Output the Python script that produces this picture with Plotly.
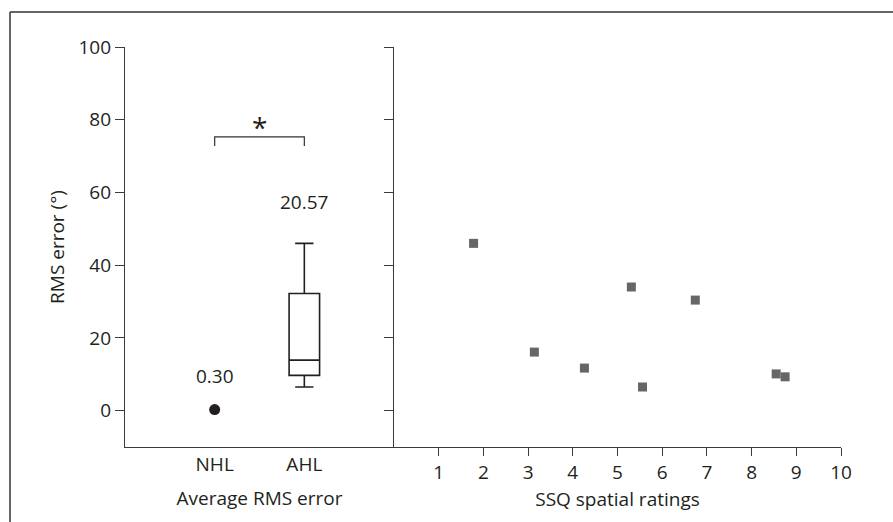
import plotly.graph_objects as go

# ---- data ----
groups = ["NHL", "AHL"]
nhl_mean = 0.30
ahl_mean = 20.57
ahl_rms_error = [46.0, 16.1, 11.7, 34.0, 6.5, 30.4, 10.1, 9.3]
ssq_spatial = [1.78, 3.14, 4.26, 5.31, 5.56, 6.74, 8.55, 8.75]
y_ticks = [0, 20, 40, 60, 80, 100]
x2_ticks = [1, 2, 3, 4, 5, 6, 7, 8, 9, 10]

# ---- styling / layout constants ----
W, H = 893, 522
ML, MR, MT, MB = 125, 52, 47, 75
split = (394 - ML) / (W - ML - MR)
FONT = "Open Sans"
FS = 19
TXT = "#231f20"
AX = "#3a3a3a"
bracket_level = 75.3
bracket_drop = 2.5
star_level = 78.0
label_offsets = {"NHL": 9.6, "AHL": 57.5}

fig = go.Figure()

# NHL mean point
fig.add_trace(go.Scatter(
    x=[groups[0]], y=[nhl_mean], mode="markers",
    marker=dict(symbol="circle", size=11, color="#231f20"),
    xaxis="x", yaxis="y", showlegend=False, hoverinfo="skip"))

# AHL box
fig.add_trace(go.Box(
    x=[groups[1]] * len(ahl_rms_error), y=ahl_rms_error,
    boxpoints=False, quartilemethod="exclusive",
    width=0.34, whiskerwidth=0.6,
    fillcolor="white", line=dict(color="#231f20", width=1.6),
    xaxis="x", yaxis="y", showlegend=False))

# significance bracket
fig.add_trace(go.Scatter(
    x=[groups[0], groups[0], groups[1], groups[1]],
    y=[bracket_level - bracket_drop, bracket_level, bracket_level, bracket_level - bracket_drop],
    mode="lines", line=dict(color="#333", width=1.2),
    xaxis="x", yaxis="y", showlegend=False, hoverinfo="skip"))

# SSQ scatter
fig.add_trace(go.Scatter(
    x=ssq_spatial, y=ahl_rms_error, mode="markers",
    marker=dict(symbol="square", size=9, color="#666666"),
    xaxis="x2", yaxis="y2", showlegend=False))

annotations = [
    dict(x=groups[0], y=label_offsets["NHL"], xref="x", yref="y", text=f"{nhl_mean:.2f}",
         showarrow=False, font=dict(family=FONT, size=FS, color=TXT)),
    dict(x=groups[1], y=label_offsets["AHL"], xref="x", yref="y", text=f"{ahl_mean:.2f}",
         showarrow=False, font=dict(family=FONT, size=FS, color=TXT)),
    dict(x=0.5, y=star_level, xref="x", yref="y", text="*",
         showarrow=False, font=dict(family=FONT, size=28, color=TXT)),
]

# outer frame (top and left edges)
x_left = (10 - ML) / (W - ML - MR)
y_top = (H - MB - 12) / (H - MT - MB)
y_bot = (H - MB - H - 10) / (H - MT - MB)
x_right = (W + 10 - ML) / (W - ML - MR)
shapes = [
    dict(type="line", xref="paper", yref="paper", x0=x_left, x1=x_left, y0=y_bot, y1=y_top,
         line=dict(color="#333", width=1.5)),
    dict(type="line", xref="paper", yref="paper", x0=x_left, x1=x_right, y0=y_top, y1=y_top,
         line=dict(color="#333", width=1.5)),
]

axis_common = dict(showgrid=False, zeroline=False, showline=True, linecolor=AX, linewidth=1.3,
                   tickfont=dict(family=FONT, size=FS, color=TXT))

fig.update_layout(
    width=W, height=H, margin=dict(l=ML, r=MR, t=MT, b=MB),
    paper_bgcolor="white", plot_bgcolor="white",
    font=dict(family=FONT, size=FS, color=TXT),
    xaxis=dict(domain=[0, split], type="category", range=[-1, 2], ticks="",
               title=dict(text="Average RMS error", standoff=15, font=dict(family=FONT, size=FS, color=TXT)),
               anchor="y", **axis_common),
    yaxis=dict(domain=[0, 1], range=[-10, 100], tickvals=y_ticks, ticks="outside", ticklen=9,
               tickcolor=AX, tickwidth=1.2,
               title=dict(text="RMS error (°)", standoff=8, font=dict(family=FONT, size=FS, color=TXT)),
               anchor="x", **axis_common),
    xaxis2=dict(domain=[split, 1], range=[0, 10], tickvals=x2_ticks, ticks="outside", ticklen=8,
                tickcolor=AX, tickwidth=1.2,
                title=dict(text="SSQ spatial ratings", standoff=8, font=dict(family=FONT, size=FS, color=TXT)),
                anchor="y2", **axis_common),
    yaxis2=dict(domain=[0, 1], range=[-10, 100], tickvals=y_ticks, ticks="outside", ticklen=9,
                tickcolor=AX, tickwidth=1.2, showticklabels=False, anchor="x2", **axis_common),
    annotations=annotations, shapes=shapes,
)

fig.write_html("out.html", config={"displayModeBar": False},
               post_script="document.body.style.margin='0px';")
